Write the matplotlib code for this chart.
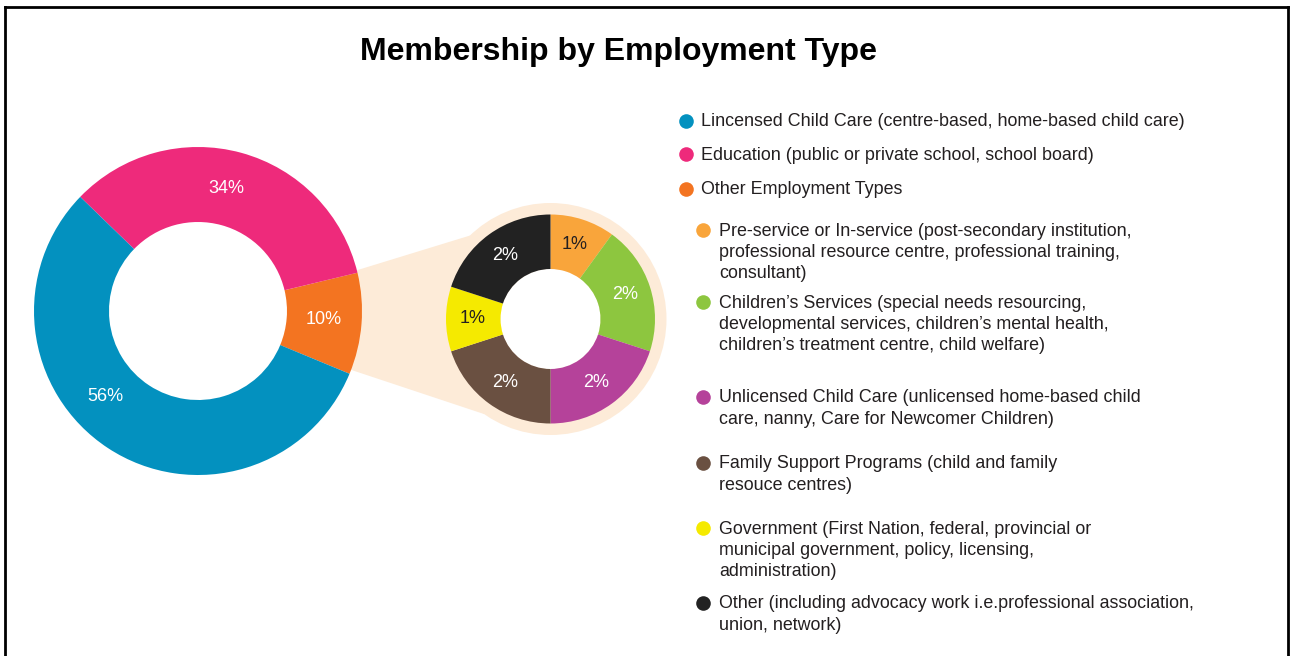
import numpy as np
import matplotlib
matplotlib.use("Agg")
import matplotlib.pyplot as plt
from matplotlib.patches import Circle, Polygon
from matplotlib.lines import Line2D

plt.rcParams['font.family'] = ['Liberation Sans', 'DejaVu Sans']

# main breakdown
main_labels = [
    'Lincensed Child Care (centre-based, home-based child care)',
    'Education (public or private school, school board)',
    'Other Employment Types',
]
main_values = [56, 34, 10]
main_colors = ['#0391BF', '#EE2A7B', '#F37421']

# breakdown of "Other Employment Types", clockwise from the top
other_labels = [
    'Pre-service or In-service (post-secondary institution,\nprofessional resource centre, professional training,\nconsultant)',
    "Children\u2019s Services (special needs resourcing,\ndevelopmental services, children\u2019s mental health,\nchildren\u2019s treatment centre, child welfare)",
    'Unlicensed Child Care (unlicensed home-based child\ncare, nanny, Care for Newcomer Children)',
    'Family Support Programs (child and family\nresouce centres)',
    'Government (First Nation, federal, provincial or\nmunicipal government, policy, licensing,\nadministration)',
    'Other (including advocacy work i.e.professional association,\nunion, network)',
]
other_values = [1, 2, 2, 2, 1, 2]
other_colors = ['#F9A53B', '#8DC63F', '#B5429A', '#6A5041', '#F5EA00', '#222222']

TEXT = '#231F20'
PEACH = '#FDEBD8'
W, H = 1293, 656


def pie_labels(ax, wedges, values, dist, colors, size, frac=None):
    for i, (w, v) in enumerate(zip(wedges, values)):
        f = 0.5 if frac is None else frac[i]
        ang = np.deg2rad(w.theta1 + f * (w.theta2 - w.theta1))
        cx, cy = w.center
        ax.text(cx + dist * np.cos(ang), cy + dist * np.sin(ang), f'{v}%',
                ha='center', va='center', color=colors[i], fontsize=size, zorder=5)


fig = plt.figure(figsize=(W / 100, H / 100), dpi=100)
ax = fig.add_axes([0, 0, 1, 1])

# big donut
big_c = (198, H - 311)
big_r, big_in = 164, 89
order = [2, 1, 0]  # orange, pink, blue counter-clockwise
wedges, _ = ax.pie([main_values[i] for i in order], colors=[main_colors[i] for i in order],
                   center=big_c, radius=big_r, startangle=-22.5, counterclock=True,
                   wedgeprops=dict(width=big_r - big_in, linewidth=0, zorder=3))
pie_labels(ax, wedges, [main_values[i] for i in order], 126, ['white'] * 3, 13,
           frac=[0.52, 0.52, 0.43])

# small donut with the peach halo
small_c = np.array([550.5, H - 319])
small_r, small_in, halo_r = 104.5, 50, 116
wedges2, _ = ax.pie(other_values, colors=other_colors, center=tuple(small_c), radius=small_r,
                    startangle=90, counterclock=False,
                    wedgeprops=dict(width=small_r - small_in, linewidth=0, zorder=3))
lab_cols = [TEXT if v == 1 else 'white' for v in other_values]
pie_labels(ax, wedges2, other_values, 78, lab_cols, 13)

ax.add_patch(Circle(tuple(small_c), halo_r, facecolor=PEACH, edgecolor='none', zorder=1))
ax.add_patch(Circle(tuple(small_c), small_in, facecolor='white', edgecolor='none', zorder=2))

# connector from the big donut into the halo
apex = np.array([big_c[0], small_c[1]])
edge_ang = np.deg2rad([134, 235])
p_top = small_c + halo_r * np.array([np.cos(edge_ang[0]), np.sin(edge_ang[0])])
p_bot = small_c + halo_r * np.array([np.cos(edge_ang[1]), np.sin(edge_ang[1])])
ax.add_patch(Polygon([apex, p_top, small_c, p_bot], closed=True, facecolor=PEACH,
                     edgecolor='none', zorder=1))
ax.add_patch(Circle(big_c, big_in, facecolor='white', edgecolor='none', zorder=2))

# title
ax.text(619, H - 52, 'Membership by Employment Type', ha='center', va='center',
        fontsize=23, fontweight='bold', color='black')

# legend
fs = 12.9
line_h = 21.5
main_y = [122, 155, 190]
for lab, col, y in zip(main_labels, main_colors, main_y):
    ax.plot(686, H - y + 1, 'o', color=col, markersize=10.5, markeredgewidth=0)
    ax.text(701, H - y, lab, ha='left', va='center', fontsize=fs, color=TEXT)

other_y = [231, 303, 398, 464, 529, 604]
for lab, col, y in zip(other_labels, other_colors, other_y):
    ax.plot(703, H - y + 1, 'o', color=col, markersize=10.5, markeredgewidth=0)
    for k, line in enumerate(lab.split('\n')):
        ax.text(719, H - y - k * line_h, line, ha='left', va='center', fontsize=fs, color=TEXT)

# frame
for xs, ys in [([5, 5], [0, H - 7]), ([5, 1288], [H - 7, H - 7]), ([1288, 1288], [H - 7, 0])]:
    ax.add_line(Line2D(xs, ys, color='black', linewidth=2, clip_on=False))

ax.set_xlim(0, W)
ax.set_ylim(0, H)
ax.set_aspect('equal')
ax.axis('off')

fig.savefig('out.png', dpi=100)
